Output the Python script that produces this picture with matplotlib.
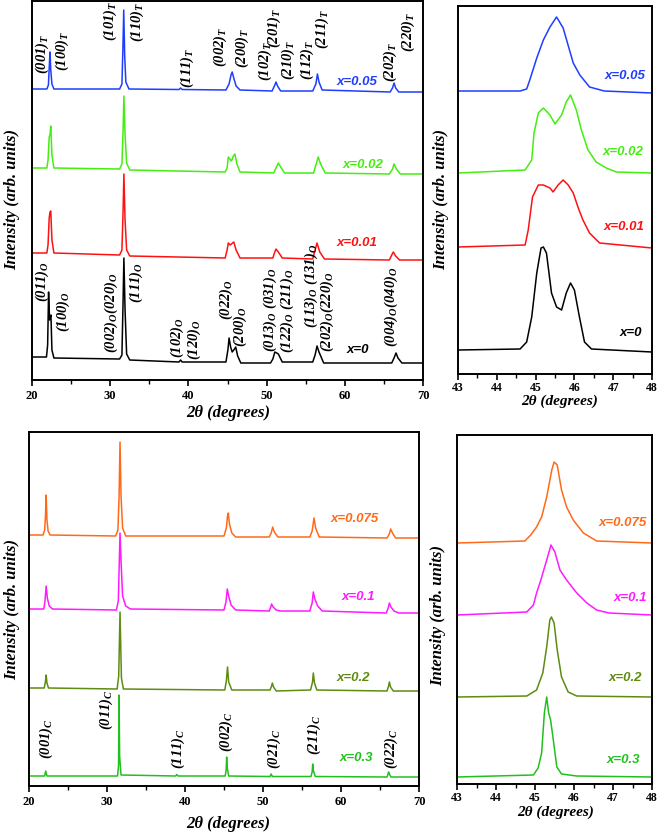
import matplotlib
matplotlib.use("Agg")
import matplotlib.pyplot as plt
from matplotlib.ticker import MultipleLocator

plt.rcParams['mathtext.fontset'] = 'custom'
plt.rcParams['mathtext.rm'] = 'Liberation Serif:bold:italic'
plt.rcParams['mathtext.it'] = 'Liberation Serif:bold:italic'
plt.rcParams['mathtext.bf'] = 'Liberation Serif:bold:italic'

SERIF = 'Liberation Serif'
SANS = 'Liberation Sans'

# ---------------- DATA (2theta in degrees, intensity in arb. units) ----------------
# Top-left: full patterns, tetragonal/orthorhombic samples
tl_005_tt = [20, 21.9, 22.1, 22.2, 22.3, 22.4, 22.55, 22.8, 31.2, 31.5, 31.62, 31.73, 31.85, 32.0, 32.4,
             38.8, 39.0, 39.2, 44.8, 45.2, 45.45, 45.6, 45.8, 46.1, 46.6, 50.7, 51.0, 51.2, 51.4, 51.8,
             55.9, 56.3, 56.5, 56.7, 57.1, 65.8, 66.1, 66.3, 66.5, 66.9, 70]
tl_005_I = [291, 291, 295, 312, 328, 310, 296, 291, 291, 296, 330, 370, 325, 298, 291,
            290.5, 292, 290.5, 290, 296, 305, 308, 302, 294, 290, 289, 294, 298, 294, 289,
            289, 296, 306, 298, 290, 288, 292, 297, 292, 288, 288]

tl_002_tt = [20, 21.9, 22.05, 22.2, 22.3, 22.4, 22.55, 22.8, 31.2, 31.5, 31.65, 31.75, 31.9, 32.1, 32.5,
             44.7, 44.95, 45.1, 45.3, 45.5, 45.75, 45.95, 46.2, 46.6, 50.9, 51.2, 51.5, 51.8, 52.3,
             56.0, 56.3, 56.6, 56.9, 57.5, 65.7, 66.1, 66.3, 66.6, 67.1, 70]
tl_002_I = [212, 212, 220, 243, 245, 254, 225, 212, 211, 216, 250, 284, 245, 217, 210,
            208, 212, 223, 221, 219, 224, 226, 216, 208, 207, 212, 217, 213, 207,
            207, 215, 223, 216, 207, 206, 211, 216, 211, 206, 206]

tl_001_tt = [20, 21.9, 22.05, 22.2, 22.3, 22.4, 22.55, 22.8, 31.2, 31.5, 31.65, 31.75, 31.9, 32.1, 32.5,
             44.7, 44.95, 45.1, 45.35, 45.8, 46.1, 46.6, 50.8, 51.0, 51.2, 51.5, 52.0,
             55.9, 56.2, 56.45, 56.8, 57.4, 65.7, 66.0, 66.2, 66.5, 67.0, 70]
tl_001_I = [127, 127, 135, 162, 168, 169, 140, 127, 125, 130, 170, 206, 160, 130, 124,
            122, 130, 137, 135, 138, 130, 122, 122, 127, 131, 128, 122,
            121, 130, 137, 128, 121, 120, 125, 128, 124, 120, 120]

tl_000_tt = [20, 21.85, 22.0, 22.12, 22.25, 22.42, 22.55, 22.8, 31.2, 31.5, 31.65, 31.75, 31.9, 32.1, 32.5,
             38.8, 39.0, 39.2, 44.8, 45.05, 45.2, 45.4, 45.6, 45.9, 46.05, 46.3, 46.7,
             50.5, 50.8, 51.05, 51.3, 51.5, 52.0, 55.9, 56.2, 56.45, 56.7, 57.3,
             66.0, 66.3, 66.55, 66.8, 67.3, 70]
tl_000_I = [23, 23, 35, 88, 60, 65, 30, 22, 21, 25, 80, 122, 70, 26, 20,
            18, 20, 18, 18, 30, 42, 33, 28, 31, 33, 24, 17,
            17, 21, 28, 27, 26, 18, 18, 25, 34, 28, 17,
            17, 22, 27, 22, 17, 17]

# Top-right: zoom around 45 deg
tr_005_tt = [43, 44.6, 44.77, 44.85, 45.03, 45.2, 45.37, 45.54, 45.71, 45.97, 46.14, 46.39, 46.77, 48]
tr_005_I = [283, 283, 285, 294, 316, 334, 347, 357, 346, 311, 299, 287, 283, 281]
tr_002_tt = [43, 44.73, 44.9, 44.96, 45.07, 45.2, 45.37, 45.5, 45.67, 45.79, 45.9, 46.05, 46.18, 46.35,
             46.56, 46.82, 47.08, 48]
tr_002_I = [201, 204, 214, 241, 261, 266, 259, 250, 259, 272, 279, 264, 244, 224, 212, 206, 202, 201]
tr_001_tt = [43, 44.73, 44.81, 44.92, 45.07, 45.2, 45.37, 45.45, 45.58, 45.71, 45.84, 45.97, 46.1, 46.22,
             46.39, 46.65, 48]
tr_001_I = [127, 129, 144, 177, 189, 189, 186, 182, 189, 194, 189, 181, 166, 154, 141, 131, 126]
tr_000_tt = [43, 44.6, 44.77, 44.9, 45.03, 45.14, 45.2, 45.28, 45.41, 45.54, 45.67, 45.79, 45.9, 46.0,
             46.13, 46.26, 46.44, 48]
tr_000_I = [24, 25, 32, 57, 101, 126, 127, 121, 81, 67, 64, 81, 91, 84, 57, 32, 25, 22]

# Bottom-left: full patterns, cubic samples
bl_0075_tt = [20, 21.8, 22.0, 22.1, 22.2, 22.3, 22.45, 22.7, 31.1, 31.4, 31.55, 31.67, 31.8, 32.0, 32.4,
              45.0, 45.3, 45.45, 45.55, 45.7, 46.0, 46.5, 50.8, 51.05, 51.24, 51.45, 51.9,
              56.0, 56.3, 56.54, 56.75, 57.2, 65.9, 66.2, 66.37, 66.6, 67.0, 70]
bl_0075_I = [251, 251, 256, 268, 291, 266, 255, 251, 250, 256, 290, 344, 290, 258, 250,
             250, 258, 270, 273, 262, 253, 249, 249, 253, 259, 254, 249,
             249, 255, 268, 258, 249, 248, 252, 257, 253, 248, 248]
bl_01_tt = [20, 21.9, 22.05, 22.2, 22.35, 22.6, 23.0, 31.2, 31.45, 31.67, 31.8, 32.0, 32.4, 33.0,
            45.0, 45.25, 45.42, 45.6, 45.9, 46.5, 50.8, 51.0, 51.1, 51.3, 51.7, 52.2,
            56.0, 56.3, 56.45, 56.65, 57.0, 57.6, 65.8, 66.05, 66.2, 66.4, 66.8, 67.4, 70]
bl_01_I = [177, 177, 185, 200, 188, 180, 177, 176, 185, 253, 225, 190, 180, 177,
           176, 184, 197, 190, 181, 176, 175, 179, 182, 179, 176, 175,
           175, 183, 194, 187, 180, 175, 173, 178, 183, 179, 175, 173, 173]
bl_02_tt = [20, 21.95, 22.1, 22.2, 22.3, 22.5, 31.3, 31.5, 31.67, 31.85, 32.1,
            45.1, 45.3, 45.45, 45.6, 46.0, 50.9, 51.1, 51.2, 51.35, 51.7,
            56.1, 56.35, 56.45, 56.6, 56.9, 65.9, 66.1, 66.2, 66.35, 66.7, 70]
bl_02_I = [98, 98, 104, 111, 103, 98, 97, 110, 174, 108, 97,
           96, 105, 119, 104, 96, 96, 100, 103, 99, 95,
           96, 104, 113, 103, 96, 95, 100, 104, 99, 95, 95]
bl_03_tt = [20, 22.0, 22.14, 22.3, 31.35, 31.48, 31.54, 31.62, 31.8, 38.8, 38.95, 39.1,
            45.15, 45.28, 45.34, 45.42, 45.6, 50.9, 51.05, 51.2, 56.15, 56.3, 56.37, 56.47, 56.7,
            65.9, 66.03, 66.1, 66.2, 66.4, 70]
bl_03_I = [10, 10, 15, 10, 10, 20, 91, 30, 11, 10, 11.5, 10,
           10, 16, 29, 18, 10, 9.5, 12, 9.5, 9.5, 14, 22, 15, 9.5,
           9, 12, 14, 12, 9, 9]

# Bottom-right: zoom around 45 deg
br_0075_tt = [43, 44.74, 44.89, 45.04, 45.17, 45.3, 45.43, 45.49, 45.57, 45.68, 45.81, 45.98, 46.24, 46.58, 48]
br_0075_I = [234, 236, 242, 250, 260, 280, 307, 315, 312, 287, 270, 257, 244, 236, 234]
br_01_tt = [43, 44.79, 44.96, 45.04, 45.15, 45.3, 45.41, 45.51, 45.64, 45.81, 46.07, 46.33, 46.58, 46.9, 48]
br_01_I = [162, 165, 172, 184, 197, 217, 232, 225, 207, 197, 184, 174, 167, 164, 162]
br_02_tt = [43, 44.79, 45.04, 45.2, 45.3, 45.38, 45.42, 45.49, 45.57, 45.68, 45.85, 46.07, 48]
br_02_I = [80, 81, 87, 104, 130, 157, 160, 154, 127, 100, 85, 81, 80]
br_03_tt = [43, 44.96, 45.08, 45.17, 45.24, 45.3, 45.35, 45.4, 45.47, 45.56, 45.68, 46.07, 48]
br_03_I = [0, 2, 9, 24, 64, 80, 64, 57, 37, 10, 3, 1, 0]

# Sample labels
top_samples = ['x=0.05', 'x=0.02', 'x=0.01', 'x=0']
top_colors = ['#1f3dff', '#44ee11', '#ff1111', '#000000']
bot_samples = ['x=0.075', 'x=0.1', 'x=0.2', 'x=0.3']
bot_colors = ['#ff6a1a', '#ff1aff', '#5e8c10', '#22c01e']

tl_lab_tt = [61.5, 62.35, 61.5, 61.67]
tl_lab_I = [298, 215, 137, 30]
tr_lab_tt = [47.3, 47.25, 47.29, 47.46]
tr_lab_I = [298, 222, 147, 41]
bl_lab_tt = [61.8, 62.2, 61.6, 62.0]
bl_lab_I = [267, 189, 108, 28]
br_lab_tt = [47.26, 47.44, 47.31, 47.26]
br_lab_I = [254, 179, 99, 17]

# Miller index labels (text, 2theta position, text bottom height)
hkl_T_text = [r'$(001)_{T}$', r'$(100)_{T}$', r'$(101)_{T}$', r'$(110)_{T}$', r'$(111)_{T}$',
              r'$(002)_{T}$', r'$(200)_{T}$', r'$(102)_{T}$', r'$(201)_{T}$', r'$(210)_{T}$',
              r'$(112)_{T}$', r'$(211)_{T}$', r'$(202)_{T}$', r'$(220)_{T}$']
hkl_T_tt = [21.28, 23.83, 30.0, 33.5, 39.8, 44.1, 46.9, 49.9, 51.0, 52.75, 55.2, 57.1, 65.76, 68.1]
hkl_T_I = [306, 309, 339, 338, 292, 313, 312, 299, 332, 300, 300, 331, 298, 328]

hkl_O_text = [r'$(011)_{O}$', r'$(100)_{O}$', r'$(002)_{O}(020)_{O}$', r'$(111)_{O}$',
              r'$(102)_{O}$', r'$(120)_{O}$', r'$(022)_{O}$', r'$(200)_{O}$',
              r'$(013)_{O}\ (031)_{O}$', r'$(122)_{O}\ (211)_{O}$',
              r'$(113)_{O}\ (131)_{O}$', r'$(202)_{O}(220)_{O}$', r'$(004)_{O}(040)_{O}$']
hkl_O_tt = [21.28, 24.04, 30.13, 33.3, 38.6, 40.75, 44.9, 46.6, 50.43, 52.6, 55.76, 57.77, 65.98]
hkl_O_I = [78, 48, 27, 77, 22, 20, 60, 33, 28, 27, 52, 28, 33]

hkl_C_text = [r'$(001)_{C}$', r'$(011)_{C}$', r'$(111)_{C}$', r'$(002)_{C}$',
              r'$(021)_{C}$', r'$(211)_{C}$', r'$(022)_{C}$']
hkl_C_tt = [22.26, 29.85, 39.1, 45.35, 51.5, 56.6, 66.4]
hkl_C_I = [27, 56, 17, 34, 17, 31, 17]

# ---------------- FIGURE ----------------
W, H = 661, 839
fig = plt.figure(figsize=(W / 100, H / 100), dpi=100)


def px_axes(left, top, right, bottom):
    return fig.add_axes([left / W, 1 - bottom / H, (right - left) / W, (bottom - top) / H])


def style(ax, xmin, xmax, major, minor, ymin, ymax, lsize, pad):
    ax.set_xlim(xmin, xmax)
    ax.set_ylim(ymin, ymax)
    ax.xaxis.set_major_locator(MultipleLocator(major))
    ax.xaxis.set_minor_locator(MultipleLocator(minor))
    ax.set_yticks([])
    ax.tick_params(axis='x', which='major', direction='out', length=4, width=1.2, pad=pad,
                   top=False, labelsize=lsize)
    ax.tick_params(axis='x', which='minor', direction='out', length=3, width=1.0, top=False)
    for lab in ax.get_xticklabels():
        lab.set_fontfamily(SERIF)
        lab.set_fontweight('bold')
    for sp in ax.spines.values():
        sp.set_linewidth(1.4)


ax_tl = px_axes(32, 1, 423, 380)
ax_tr = px_axes(458, 6, 652, 374)
ax_bl = px_axes(29, 432, 419, 786)
ax_br = px_axes(457, 435, 652, 784)

style(ax_tl, 20, 70, 10, 5, 0, 379, 9, 3)
style(ax_tr, 43, 48, 1, 0.5, 0, 368, 8.5, 1.5)
style(ax_bl, 20, 70, 10, 5, 0, 354, 9, 3)
style(ax_br, 43, 48, 1, 0.5, -7, 342, 8.5, 1.5)

tl_curves = [(tl_005_tt, tl_005_I), (tl_002_tt, tl_002_I), (tl_001_tt, tl_001_I), (tl_000_tt, tl_000_I)]
tr_curves = [(tr_005_tt, tr_005_I), (tr_002_tt, tr_002_I), (tr_001_tt, tr_001_I), (tr_000_tt, tr_000_I)]
bl_curves = [(bl_0075_tt, bl_0075_I), (bl_01_tt, bl_01_I), (bl_02_tt, bl_02_I), (bl_03_tt, bl_03_I)]
br_curves = [(br_0075_tt, br_0075_I), (br_01_tt, br_01_I), (br_02_tt, br_02_I), (br_03_tt, br_03_I)]

for (tt, I), c in zip(tl_curves, top_colors):
    ax_tl.plot(tt, I, color=c, lw=1.1)
for (tt, I), c in zip(tr_curves, top_colors):
    ax_tr.plot(tt, I, color=c, lw=1.1)
for (tt, I), c in zip(bl_curves, bot_colors):
    ax_bl.plot(tt, I, color=c, lw=1.1)
for (tt, I), c in zip(br_curves, bot_colors):
    ax_br.plot(tt, I, color=c, lw=1.1)

lab_kw = dict(fontfamily=SANS, fontweight='bold', fontstyle='italic', fontsize=9.5,
              ha='center', va='center')
for s, c, x, y in zip(top_samples, top_colors, tl_lab_tt, tl_lab_I):
    ax_tl.text(x, y, s, color=c, **lab_kw)
for s, c, x, y in zip(top_samples, top_colors, tr_lab_tt, tr_lab_I):
    ax_tr.text(x, y, s, color=c, **lab_kw)
for s, c, x, y in zip(bot_samples, bot_colors, bl_lab_tt, bl_lab_I):
    ax_bl.text(x, y, s, color=c, **lab_kw)
for s, c, x, y in zip(bot_samples, bot_colors, br_lab_tt, br_lab_I):
    ax_br.text(x, y, s, color=c, **lab_kw)

hkl_kw = dict(rotation=90, ha='center', va='bottom', fontsize=10.5, color='black')
for s, x, y in zip(hkl_T_text, hkl_T_tt, hkl_T_I):
    ax_tl.text(x, y, s, **hkl_kw)
for s, x, y in zip(hkl_O_text, hkl_O_tt, hkl_O_I):
    ax_tl.text(x, y, s, **hkl_kw)
for s, x, y in zip(hkl_C_text, hkl_C_tt, hkl_C_I):
    ax_bl.text(x, y, s, **hkl_kw)

ax_kw = dict(fontfamily=SERIF, fontweight='bold', fontstyle='italic', fontsize=12,
             ha='center', va='center')
ax_kw_s = dict(ax_kw, fontsize=11)
fig.text(228 / W, 1 - 413 / H, '2θ (degrees)', **ax_kw)
fig.text(560 / W, 1 - 401 / H, '2θ (degrees)', **ax_kw_s)
fig.text(228 / W, 1 - 824 / H, '2θ (degrees)', **ax_kw)
fig.text(556 / W, 1 - 812 / H, '2θ (degrees)', **ax_kw_s)
fig.text(12 / W, 1 - 199 / H, 'Intensity (arb. units)', rotation=90, **ax_kw)
fig.text(441 / W, 1 - 200 / H, 'Intensity (arb. units)', rotation=90, **ax_kw)
fig.text(12 / W, 1 - 610 / H, 'Intensity (arb. units)', rotation=90, **ax_kw)
fig.text(438 / W, 1 - 615 / H, 'Intensity (arb. units)', rotation=90, **ax_kw)

fig.savefig('out.png', dpi=100)
